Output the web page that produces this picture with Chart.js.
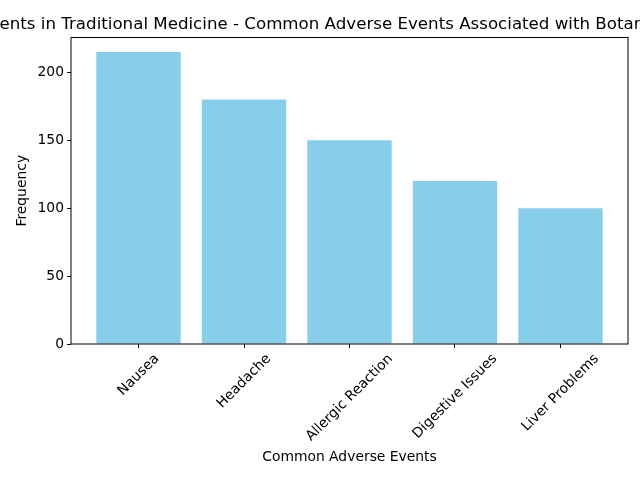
<!DOCTYPE html>
<html>
<head>
<meta charset="utf-8">
<script src="https://cdn.jsdelivr.net/npm/chart.js@4"></script>
<style>
  html, body { margin: 0; padding: 0; background: #fff; }
  #wrap { width: 640px; height: 480px; }
</style>
</head>
<body>
<div id="wrap"><canvas id="barChart"></canvas></div>
<script>
// data
var events = ["Nausea", "Headache", "Allergic Reaction", "Digestive Issues", "Liver Problems"];
var frequency = [215, 180, 150, 120, 100];
var yTicks = [0, 50, 100, 150, 200];

// the title runs off both edges of the picture; the visible part starts at "ents in"
var titleText = "Adverse Events in Traditional Medicine - Common Adverse Events Associated with Botanical Remedies";
var titleHiddenLead = "Adverse Ev";
var xTitle = "Common Adverse Events";
var yTitle = "Frequency";

var FONT = "'DejaVu Sans', sans-serif";

// matplotlib-like margins
var yMax = Math.max.apply(null, frequency) * 1.05;
var xMin = -0.4 - 0.05 * (events.length - 1 + 0.8);
var xMax = events.length - 1 + 0.4 + 0.05 * (events.length - 1 + 0.8);

var textPlugin = {
    id: 'mplText',
    afterDraw: function (chart) {
        var ctx = chart.ctx;
        var area = chart.chartArea;
        var xs = chart.scales.x;
        var cx = (area.left + area.right) / 2;
        ctx.save();
        ctx.fillStyle = '#000';

        // title, clipped by the canvas on both sides
        ctx.font = '16.67px ' + FONT;
        ctx.textAlign = 'left';
        ctx.textBaseline = 'alphabetic';
        ctx.fillText(titleText, -ctx.measureText(titleHiddenLead).width - 0.5, 28.5);

        // rotated category labels
        ctx.font = '13.89px ' + FONT;
        var h = 16;
        events.forEach(function (name, i) {
            var w = ctx.measureText(name).width;
            var bb = (w + h) * Math.SQRT1_2;
            var px = xs.getPixelForValue(i);
            var py = area.bottom + 7 + bb / 2;
            ctx.save();
            ctx.translate(px, py);
            ctx.rotate(-Math.PI / 4);
            ctx.textAlign = 'center';
            ctx.textBaseline = 'middle';
            ctx.fillText(name, 0, 0);
            ctx.restore();
        });

        // axis titles
        ctx.textAlign = 'center';
        ctx.textBaseline = 'middle';
        ctx.fillText(xTitle, cx, 457);
        ctx.save();
        ctx.translate(22.5, (area.top + area.bottom) / 2);
        ctx.rotate(-Math.PI / 2);
        ctx.fillText(yTitle, 0, 0);
        ctx.restore();

        // axes frame
        ctx.strokeStyle = '#000';
        ctx.lineWidth = 1;
        ctx.strokeRect(area.left, area.top, area.right - area.left, area.bottom - area.top);
        ctx.restore();
    }
};

var ctxB = document.getElementById("barChart").getContext('2d');
var myBarChart = new Chart(ctxB, {
    type: 'bar',
    data: {
        datasets: [{
            label: yTitle,
            data: frequency.map(function (v, i) { return { x: i, y: v }; }),
            backgroundColor: '#87CEEB',
            borderWidth: 0,
            barPercentage: 0.8,
            categoryPercentage: 1.0
        }]
    },
    options: {
        responsive: true,
        maintainAspectRatio: false,
        animation: false,
        devicePixelRatio: 1,
        layout: {
            padding: { left: 0, right: 12, top: 37.5, bottom: 0 }
        },
        plugins: {
            legend: { display: false },
            tooltip: { enabled: false }
        },
        scales: {
            x: {
                type: 'linear',
                min: xMin,
                max: xMax,
                offset: false,
                afterBuildTicks: function (s) {
                    s.ticks = events.map(function (e, i) { return { value: i }; });
                },
                afterFit: function (s) { s.height = 136; },
                ticks: { display: false },
                grid: {
                    display: true,
                    offset: false,
                    drawOnChartArea: false,
                    drawTicks: true,
                    tickLength: 4,
                    color: '#000'
                },
                border: { display: false }
            },
            y: {
                min: 0,
                max: yMax,
                afterBuildTicks: function (s) {
                    s.ticks = yTicks.map(function (v) { return { value: v }; });
                },
                afterFit: function (s) { s.width = 71; },
                ticks: {
                    color: '#000',
                    padding: 3,
                    font: { family: FONT, size: 13.89 }
                },
                grid: {
                    display: true,
                    drawOnChartArea: false,
                    drawTicks: true,
                    tickLength: 4,
                    color: '#000'
                },
                border: { display: false }
            }
        }
    },
    plugins: [textPlugin]
});
</script>
</body>
</html>
